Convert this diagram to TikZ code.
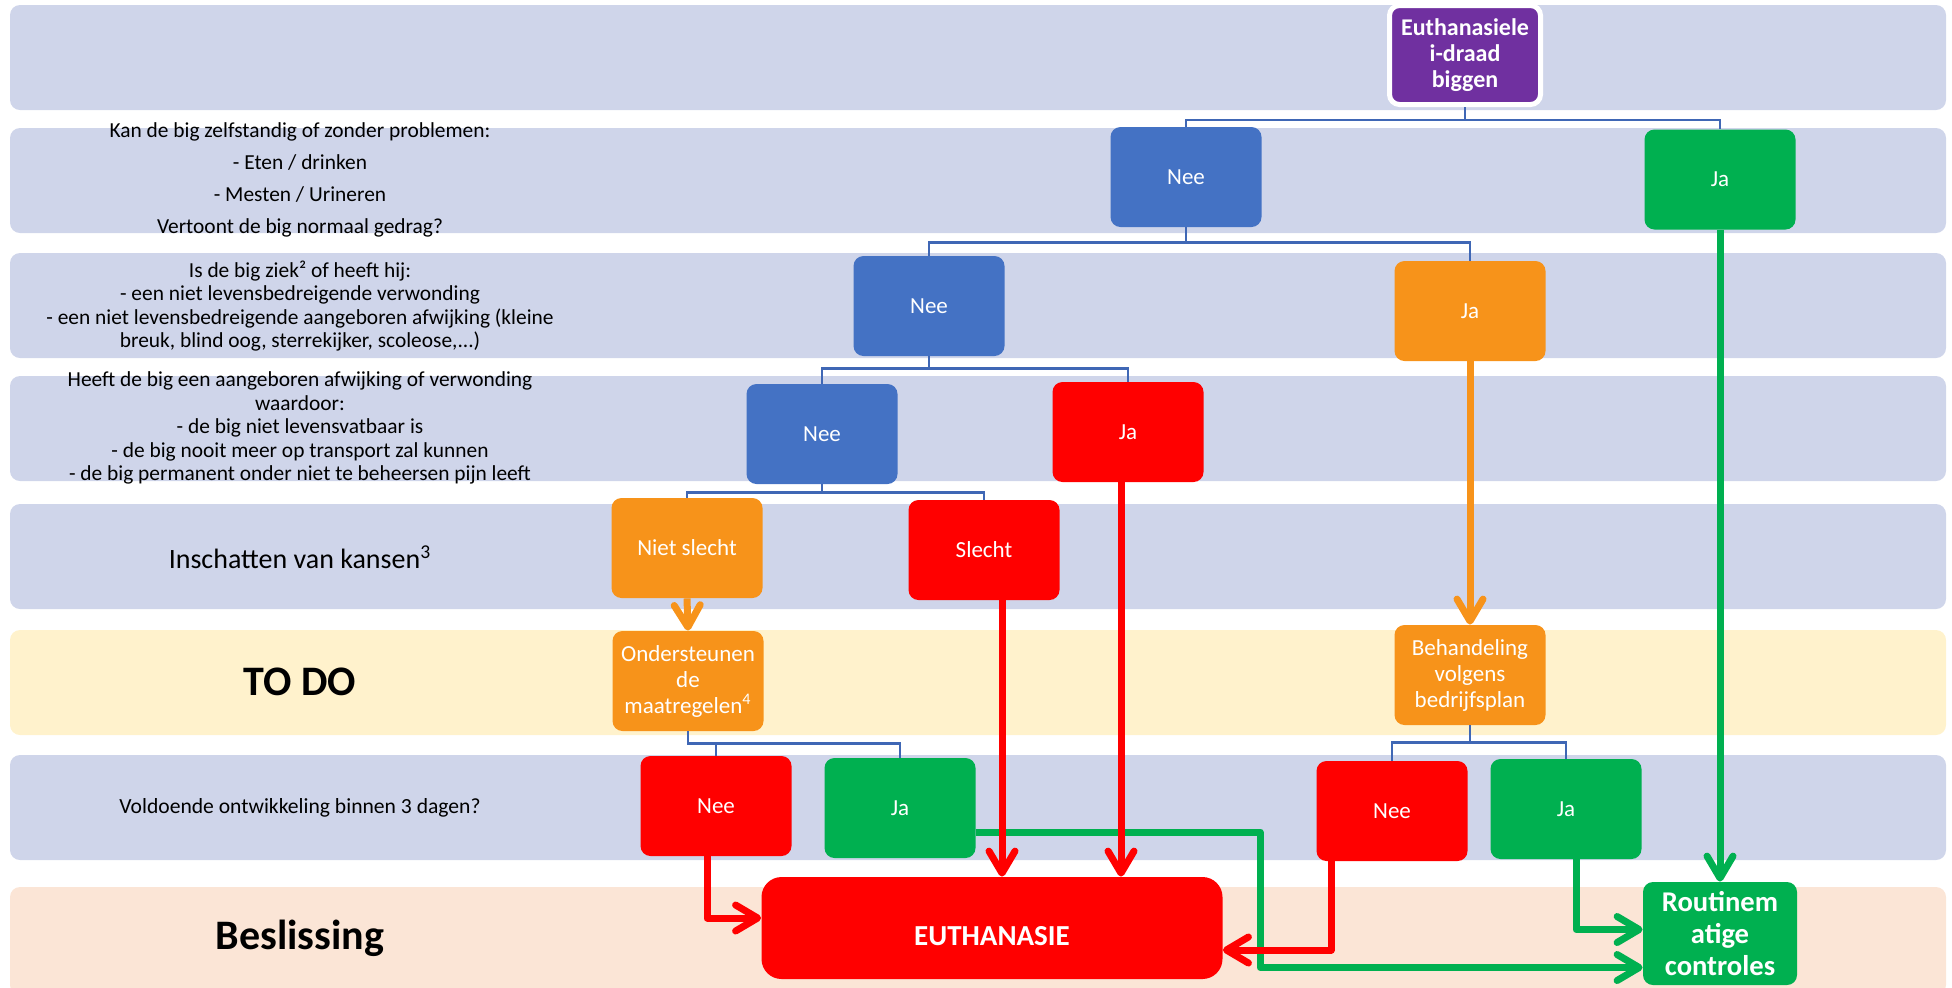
\documentclass[tikz,border=0pt]{standalone}
\usepackage{fontspec}
\setmainfont{Carlito}
\usetikzlibrary{calc,arrows.meta}
\definecolor{lane}{HTML}{CFD5EA}
\definecolor{todolane}{HTML}{FFF2CC}
\definecolor{decidelane}{HTML}{FBE5D6}
\definecolor{neeblue}{HTML}{4472C4}
\definecolor{treeblue}{HTML}{3F67B5}
\definecolor{jagreen}{HTML}{00B050}
\definecolor{stopred}{HTML}{FF0000}
\definecolor{careorange}{HTML}{F7931A}
\definecolor{startviolet}{HTML}{7030A0}
\tikzset{
  box/.style={rectangle, rounded corners=5pt, minimum width=75.5pt, minimum height=50pt,
    inner sep=2pt, align=center, text=white, font=\fontsize{11.5}{13}\selectfont},
  neebox/.style={box, fill=neeblue},
  jabox/.style={box, fill=jagreen},
  stopbox/.style={box, fill=stopred},
  carebox/.style={box, fill=careorange},
  question/.style={align=center, font=\fontsize{10.7}{11.7}\selectfont},
  lanetitle/.style={font=\bfseries\fontsize{21}{24}\selectfont},
  tree/.style={draw=treeblue, line width=1.2pt},
  arrowline/.style={line width=3.5pt, line join=round,
    -{Straight Barb[length=11pt,width=13pt,round]}},
}
\begin{document}
\begin{tikzpicture}[x=0.5pt, y=-0.5pt]
			%%%%% START %%%%%
			\useasboundingbox (0,0) rectangle (1952,987);
			
			\fill[lane, rounded corners=5pt] (10,5) rectangle (1946,110);
			\fill[lane, rounded corners=5pt] (10,128) rectangle (1946,233);
			\fill[lane, rounded corners=5pt] (10,253) rectangle (1946,358);
			\fill[lane, rounded corners=5pt] (10,376) rectangle (1946,481);
			\fill[lane, rounded corners=5pt] (10,504) rectangle (1946,609);
			\fill[todolane, rounded corners=5pt] (10,630) rectangle (1946,735);
			\fill[lane, rounded corners=5pt] (10,755) rectangle (1946,860);
			\fill[decidelane, rounded corners=5pt] (10,887) rectangle (1946,995);
			
			\node[question, font=\fontsize{10.7}{16}\selectfont] (q1) at (300,180) {Kan de big zelfstandig of zonder problemen:\\- Eten / drinken\\- Mesten / Urineren\\Vertoont de big normaal gedrag?};
			\node[question] (q2) at (300,306) {Is de big ziek² of heeft hij:\\- een niet levensbedreigende verwonding\\- een niet levensbedreigende aangeboren afwijking (kleine\\breuk, blind oog, sterrekijker, scoleose,...)};
			\node[question] (q3) at (300,428) {Heeft de big een aangeboren afwijking of verwonding\\waardoor:\\- de big niet levensvatbaar is\\- de big nooit meer op transport zal kunnen\\- de big permanent onder niet te beheersen pijn leeft};
			\node[question, font=\fontsize{14}{16}\selectfont] (q4) at (300,557) {Inschatten van kansen\textsuperscript{3}};
			\node[lanetitle] (todo) at (300,682) {TO DO};
			\node[question, font=\fontsize{10.8}{12}\selectfont] (q5) at (300,808) {Voldoende ontwikkeling binnen 3 dagen?};
			\node[lanetitle] (decide) at (300,938) {Beslissing};
			
			\node[box, fill=startviolet, draw=white, line width=2.5pt, minimum height=49.5pt,
			  font=\bfseries\fontsize{12}{13}\selectfont] (start) at (1465,55) {Euthanasiele\\i-draad\\biggen};
			\node[neebox] (nee1) at (1186,177) {Nee};
			\node[jabox] (ja1) at (1720,179.5) {Ja};
			\node[neebox] (nee2) at (929,306) {Nee};
			\node[carebox] (ja2) at (1470,311) {Ja};
			\node[neebox] (nee3) at (822,434) {Nee};
			\node[stopbox] (ja3) at (1128,432) {Ja};
			\node[carebox] (niet) at (687,548) {Niet slecht};
			\node[stopbox] (slecht) at (984,550) {Slecht};
			\node[carebox] (steun) at (688,681) {Ondersteunen\\de\\maatregelen\textsuperscript{4}};
			\node[carebox] (plan) at (1470,675) {Behandeling\\volgens\\bedrijfsplan};
			\node[stopbox] (nee4) at (716,806) {Nee};
			\node[jabox] (ja4) at (900,808) {Ja};
			\node[stopbox] (nee5) at (1392,811) {Nee};
			\node[jabox] (ja5) at (1566,809) {Ja};
			\node[stopbox, minimum width=230.5pt, minimum height=51pt, rounded corners=10pt,
			  label={[text=white, yshift=-4pt, font=\bfseries\fontsize{14.5}{16}\selectfont]center:EUTHANASIE}] (euth) at (992,928) {};
			\node[jabox, minimum width=77pt, minimum height=51.5pt,
			  font=\bfseries\fontsize{14.3}{16}\selectfont] (routine) at (1720,933.5) {Routinem\\atige\\controles};
			
			\draw[tree] (start.south) -- ++(0,13) -| (nee1.north);
			\draw[tree] (start.south) -- ++(0,13) -| (ja1.north);
			\draw[tree] (nee1.south) -- ++(0,15) -| (nee2.north);
			\draw[tree] (nee1.south) -- ++(0,15) -| (ja2.north);
			\draw[tree] (nee2.south) -- ++(0,12) -| (nee3.north);
			\draw[tree] (nee2.south) -- ++(0,12) -| (ja3.north);
			\draw[tree] (nee3.south) -- ++(0,8) -| (niet.north);
			\draw[tree] (nee3.south) -- ++(0,8) -| (slecht.north);
			\draw[tree] (steun.south) -- ++(0,12) -| (nee4.north);
			\draw[tree] (steun.south) -- ++(0,12) -| (ja4.north);
			\draw[tree] (plan.south) -- ++(0,17) -| (nee5.north);
			\draw[tree] (plan.south) -- ++(0,17) -| (ja5.north);
			
			\draw[arrowline, draw=careorange] (niet.south) -- (steun.north);
			\draw[arrowline, draw=careorange] (ja2.south) -- (plan.north);
			
			\coordinate (g4) at ($(ja4.east)+(0,24)$);
			\coordinate (g4bend) at (1260,967.5);
			\coordinate (g5) at ($(ja5.south)+(10,0)$);
			\draw[arrowline, draw=jagreen] (ja1.south) -- (routine.north);
			\draw[arrowline, draw=jagreen] (g4) -| (g4bend) -- ($(routine.west)+(0,34)$);
			\draw[arrowline, draw=jagreen] (g5) |- ($(routine.west)+(0,-4)$);
			
			\coordinate (r1) at ($(slecht.south)+(18,0)$);
			\coordinate (r2) at ($(ja3.south)+(-7,0)$);
			\coordinate (r3) at ($(nee4.south)+(-9,0)$);
			\coordinate (r4) at ($(nee5.south)+(-61,0)$);
			\draw[arrowline, draw=stopred] (r1) -- (r1 |- euth.north);
			\draw[arrowline, draw=stopred] (r2) -- (r2 |- euth.north);
			\draw[arrowline, draw=stopred] (r3) |- ($(euth.west)+(0,-10)$);
			\draw[arrowline, draw=stopred] (r4) |- ($(euth.east)+(0,22)$);
			%%%%% END %%%%%
\end{tikzpicture}
\end{document}
